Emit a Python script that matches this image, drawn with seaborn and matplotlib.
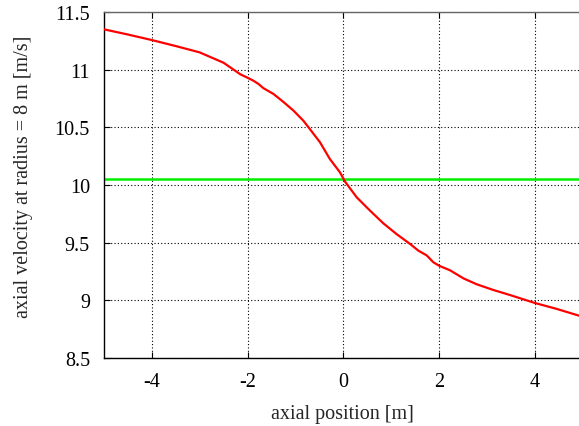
import numpy as np
import pandas as pd
import matplotlib
matplotlib.use("Agg")
import matplotlib.pyplot as plt
import seaborn as sns

# Axial velocity profile sampled along the axis
axial_pos = [-5.0, -4.5, -4.0, -3.5, -3.0, -2.5, -2.15, -2.0, -1.88, -1.77,
             -1.67, -1.46, -1.25, -1.04, -0.835, -0.72, -0.486, -0.28, -0.07,
             0.035, 0.28, 0.56, 0.835, 1.11, 1.39, 1.57, 1.74, 1.88, 2.0, 2.23,
             2.51, 2.78, 3.13, 3.48, 4.0, 4.46, 5.0]
velocity = [11.35, 11.305, 11.257, 11.205, 11.15, 11.06, 10.96, 10.93, 10.905,
            10.876, 10.84, 10.79, 10.72, 10.645, 10.558, 10.497, 10.37, 10.225,
            10.11, 10.03, 9.893, 9.777, 9.668, 9.575, 9.49, 9.43, 9.39, 9.33,
            9.30, 9.26, 9.19, 9.14, 9.09, 9.046, 8.977, 8.925, 8.857]

# Free-stream reference velocity
free_pos = [-5.0, 5.0]
free_vel = [10.05, 10.05]

x_ticks = [-4, -2, 0, 2, 4]
y_ticks = [8.5, 9, 9.5, 10, 10.5, 11, 11.5]

sns.set_theme(style="white")
plt.rcParams["font.family"] = ["Liberation Serif", "DejaVu Serif"]

fig = plt.figure(figsize=(5.79, 4.27), dpi=100)
ax = fig.add_axes([103.8 / 579, 68 / 427, 479 / 579, 346 / 427])

df = pd.DataFrame({"x": axial_pos, "v": velocity})
df_free = pd.DataFrame({"x": free_pos, "v": free_vel})
sns.lineplot(data=df, x="x", y="v", ax=ax, color="#ff0000", linewidth=1.6,
             sort=True, zorder=3)
sns.lineplot(data=df_free, x="x", y="v", ax=ax, color="#00ee00", linewidth=1.8,
             zorder=2)

ax.set_xlim(-5, 5)
ax.set_ylim(8.5, 11.5)
ax.set_xticks(x_ticks)
ax.set_yticks(y_ticks)
ax.set_xticklabels([str(t) for t in x_ticks])
ax.set_yticklabels([f"{t:g}" for t in y_ticks])
ax.grid(True, color="black", linestyle=(0, (1, 2)), linewidth=0.8)
ax.set_axisbelow(True)

ax.tick_params(direction="in", length=4, width=0.8, labelsize=14.5,
               colors="black", top=True, bottom=True, left=True, right=False)
ax.tick_params(axis="x", pad=10)
ax.tick_params(axis="y", pad=10)
for side in ["left", "bottom"]:
    ax.spines[side].set_color("black")
    ax.spines[side].set_linewidth(1.0)
ax.spines["top"].set_color("#666666")
ax.spines["top"].set_linewidth(1.0)
ax.spines["top"].set_linestyle((0, (1, 1)))
ax.spines["right"].set_visible(False)

ax.set_xlabel("axial position [m]", fontsize=14.5)
ax.set_ylabel("axial velocity at radius = 8 m [m/s]", fontsize=14.5)
ax.xaxis.set_label_coords(0.498, -0.133)
ax.yaxis.set_label_coords(-0.148, 0.526)

fig.savefig("out.png", dpi=100)
